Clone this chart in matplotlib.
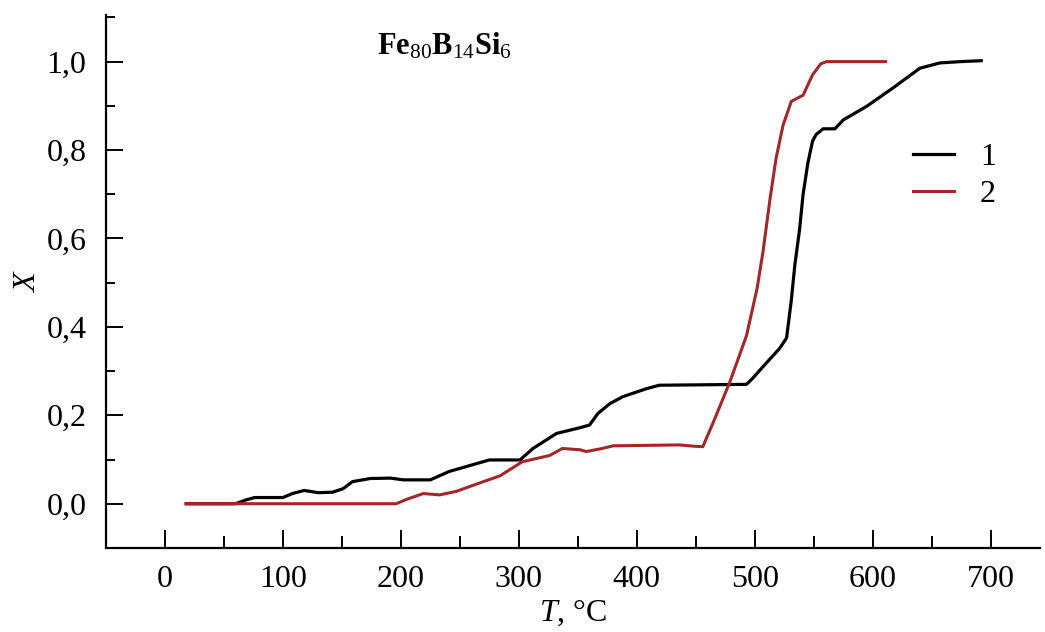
import matplotlib
matplotlib.use('Agg')
import matplotlib.pyplot as plt
from matplotlib.ticker import MultipleLocator, FuncFormatter

plt.rcParams['font.family'] = 'Liberation Serif'
plt.rcParams['mathtext.fontset'] = 'custom'
plt.rcParams['mathtext.rm'] = 'Liberation Serif'
plt.rcParams['mathtext.it'] = 'Liberation Serif:italic'
plt.rcParams['mathtext.bf'] = 'Liberation Serif:bold'

# Curve 1
T1 = [18, 60, 68, 76, 100, 108, 118, 130, 142, 151, 159, 174, 191, 202, 225,
      241, 258, 275, 301, 312, 332, 352, 360, 367, 377, 388, 408, 419, 493,
      498, 507, 521, 527, 531, 534, 538, 541, 545, 549, 552, 558, 568, 575,
      595, 617, 640, 657, 675, 692]
X1 = [0, 0, 0.008, 0.014, 0.014, 0.023, 0.03, 0.025, 0.026, 0.034, 0.05, 0.057,
      0.058, 0.054, 0.054, 0.073, 0.086, 0.099, 0.099, 0.125, 0.159, 0.172,
      0.178, 0.204, 0.226, 0.242, 0.26, 0.268, 0.27, 0.283, 0.31, 0.351, 0.375,
      0.46, 0.54, 0.62, 0.70, 0.77, 0.82, 0.835, 0.848, 0.848, 0.868, 0.899,
      0.94, 0.985, 0.997, 1.0, 1.002]

# Curve 2
T2 = [18, 196, 205, 219, 233, 247, 270, 284, 303, 326, 337, 352, 357, 369, 380,
      436, 449, 456, 465, 479, 493, 502, 507, 513, 518, 524, 531, 541, 549,
      556, 561, 578, 611]
X2 = [0, 0, 0.01, 0.023, 0.02, 0.028, 0.05, 0.063, 0.095, 0.109, 0.125, 0.122,
      0.118, 0.124, 0.131, 0.133, 0.13, 0.129, 0.185, 0.276, 0.38, 0.487, 0.57,
      0.69, 0.78, 0.856, 0.91, 0.924, 0.97, 0.995, 1.0, 1.0, 1.0]

fig = plt.figure(figsize=(10.45, 6.32), dpi=100, facecolor='w')
ax = fig.add_axes([0.1014, 0.133, 0.894, 0.843])

ax.plot(T1, X1, color='black', lw=2.3, label='1')
ax.plot(T2, X2, color='#a3262a', lw=2.2, label='2')

# Decorations
ax.set_xlim(-50, 742)
ax.set_ylim(-0.1, 1.105)
ax.spines['top'].set_visible(False)
ax.spines['right'].set_visible(False)
ax.spines['left'].set_linewidth(1.6)
ax.spines['bottom'].set_linewidth(1.6)

ax.xaxis.set_major_locator(MultipleLocator(100))
ax.xaxis.set_minor_locator(MultipleLocator(50))
ax.yaxis.set_major_locator(MultipleLocator(0.2))
ax.yaxis.set_minor_locator(MultipleLocator(0.1))
ax.yaxis.set_major_formatter(FuncFormatter(lambda v, p: f'{v:.1f}'.replace('.', ',')))

ax.tick_params(axis='x', which='major', direction='in', length=13, width=1.4,
               labelsize=23, pad=12)
ax.tick_params(axis='x', which='minor', direction='in', length=8.5, width=1.4)
ax.tick_params(axis='y', which='major', direction='in', length=12, width=1.4,
               labelsize=23, pad=14)
ax.tick_params(axis='y', which='minor', direction='in', length=6.5, width=1.4)

ax.set_xlabel(r'$T$, °C', fontsize=23, labelpad=3)
ax.set_ylabel(r'$X$', fontsize=23, labelpad=3)

ax.text(237, 1.035, r'$\mathbf{Fe}_{\mathrm{80}}\mathbf{B}_{\mathrm{14}}\mathbf{Si}_{\mathrm{6}}$',
        fontsize=22, ha='center', va='center')

ax.legend(loc='upper left', bbox_to_anchor=(0.833, 0.815), frameon=False,
          fontsize=23, handlelength=1.3, handletextpad=0.8, labelspacing=0.25)

fig.savefig('out.png', dpi=100)
